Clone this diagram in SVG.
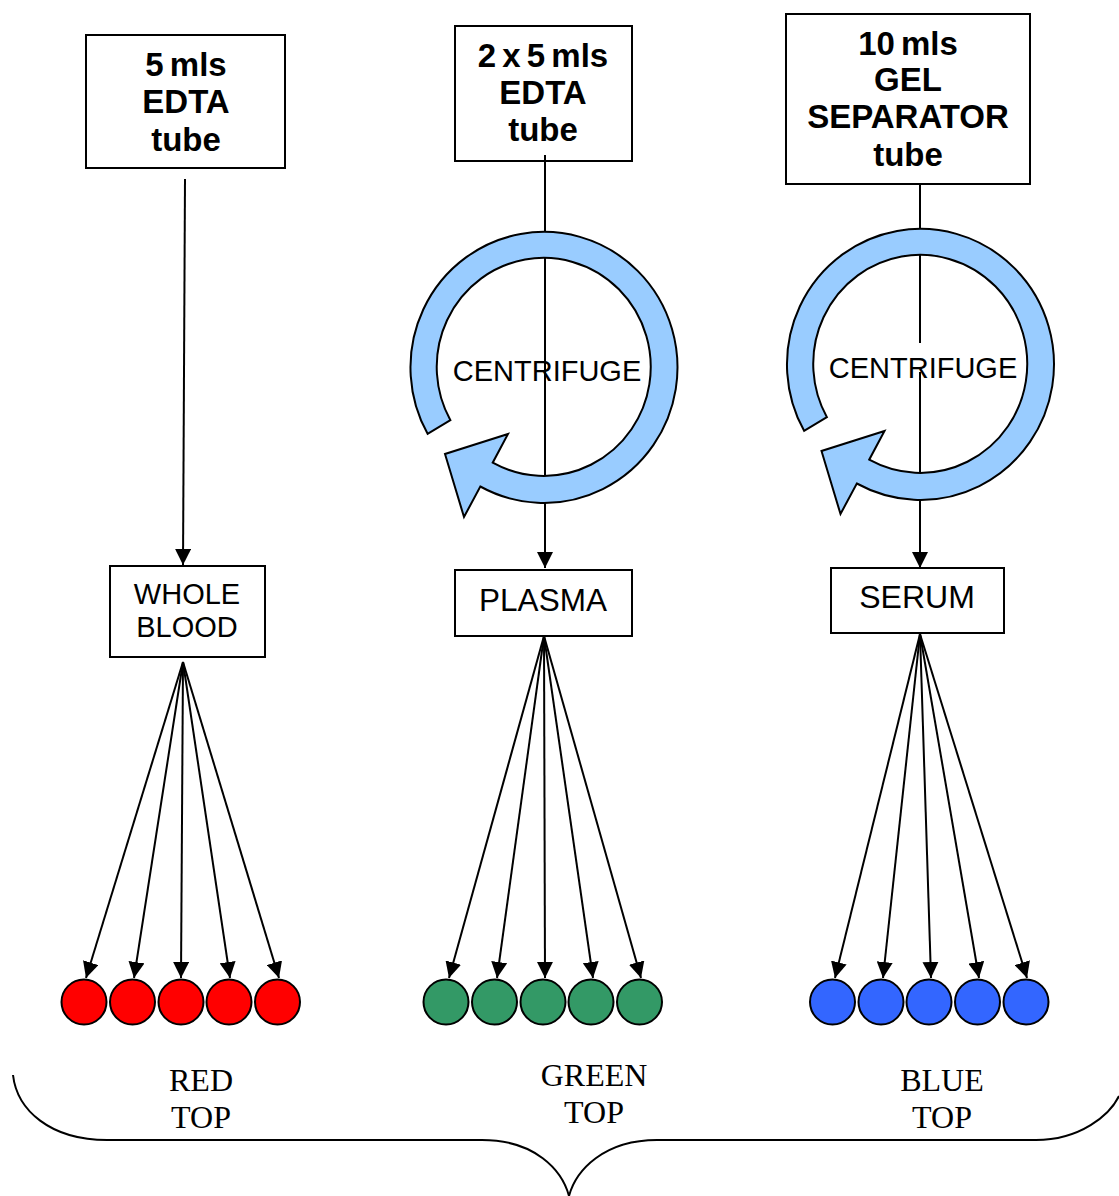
<svg xmlns="http://www.w3.org/2000/svg" width="1119" height="1196" viewBox="0 0 1119 1196">
<defs>
<marker id="ah" markerUnits="userSpaceOnUse" markerWidth="16" markerHeight="16" refX="16" refY="8" orient="auto"><path d="M0,0 L16,8 L0,16 Z" fill="#000"/></marker>
<path id="ring" d="M427.6,433.8 A133.5,135.5 0 1 1 480.3,486.5 L464,517 L445,454 L508,434 L492.7,462.7 A107,109 0 1 0 450.4,420.2 Z"/>
</defs>
<style>
.box{fill:#fff;stroke:#000;stroke-width:2}
.b{font:bold 33px "Liberation Sans",Arial,sans-serif;text-anchor:middle;word-spacing:-3px}
.l{font:29px "Liberation Sans",Arial,sans-serif;text-anchor:middle}
.s{font:32px "Liberation Serif","Times New Roman",serif;text-anchor:middle}
.c{stroke:#000;stroke-width:2;fill:none;marker-end:url(#ah)}
.n{stroke:#000;stroke-width:2;fill:none}
.d{stroke:#000;stroke-width:2}
.r{fill:#99ccff;stroke:#000;stroke-width:2}
</style>
<g id="box-edta5"><rect class="box" x="86" y="35" width="199" height="133"/><text class="b" x="186" y="76">5 mls</text><text class="b" x="186" y="113">EDTA</text><text class="b" x="186" y="151">tube</text></g>
<g id="box-edta2x5"><rect class="box" x="455" y="26" width="177" height="135"/><text class="b" x="543" y="67">2 x 5 mls</text><text class="b" x="543" y="104">EDTA</text><text class="b" x="543" y="141">tube</text></g>
<g id="box-gel"><rect class="box" x="786" y="14" width="244" height="170"/><text class="b" x="908" y="55">10 mls</text><text class="b" x="908" y="91">GEL</text><text class="b" x="908" y="128">SEPARATOR</text><text class="b" x="908" y="166">tube</text></g>
<g id="box-whole"><rect class="box" x="110" y="566" width="155" height="91"/><text class="l" x="187" y="604">WHOLE</text><text class="l" x="187" y="637">BLOOD</text></g>
<g id="box-plasma"><rect class="box" x="455" y="570" width="177" height="66"/><text class="l" x="543" y="611" style="font-size:31.5px">PLASMA</text></g>
<g id="box-serum"><rect class="box" x="831" y="568" width="173" height="65"/><text class="l" x="917" y="608" style="font-size:32px">SERUM</text></g>
<g id="connectors">
<line class="c" x1="185" y1="179" x2="183" y2="565"/>
<line class="c" x1="545" y1="155" x2="545" y2="568"/>
<line class="n" x1="920" y1="184" x2="920" y2="343"/>
<line class="c" x1="920" y1="372" x2="920" y2="568"/>
<line class="c" x1="183" y1="662" x2="86" y2="978"/>
<line class="c" x1="183" y1="662" x2="134" y2="978"/>
<line class="c" x1="183" y1="662" x2="181" y2="978"/>
<line class="c" x1="183" y1="662" x2="230" y2="978"/>
<line class="c" x1="183" y1="662" x2="279" y2="978"/>
<line class="c" x1="544" y1="636" x2="449" y2="978"/>
<line class="c" x1="544" y1="636" x2="497" y2="978"/>
<line class="c" x1="544" y1="636" x2="545" y2="978"/>
<line class="c" x1="544" y1="636" x2="593" y2="978"/>
<line class="c" x1="544" y1="636" x2="641" y2="978"/>
<line class="c" x1="920" y1="634" x2="835" y2="978"/>
<line class="c" x1="920" y1="634" x2="883" y2="978"/>
<line class="c" x1="920" y1="634" x2="931" y2="978"/>
<line class="c" x1="920" y1="634" x2="979" y2="978"/>
<line class="c" x1="920" y1="634" x2="1027" y2="978"/>
<path id="brace" class="n" d="M13,1075 C17,1110 50,1140 107,1140 L482,1140 C535,1140 562,1170 569,1196 C576,1170 604,1140 657,1140 L1036,1140 C1080,1140 1110,1115 1119,1096"/>
</g>
<g id="centrifuge-1"><use href="#ring" class="r"/><text class="l" x="547" y="381">CENTRIFUGE</text></g>
<g id="centrifuge-2"><use href="#ring" class="r" x="376.5" y="-3"/><text class="l" x="923" y="378">CENTRIFUGE</text></g>
<g id="tubes-red" fill="#ff0000"><circle class="d" cx="84" cy="1002" r="22.5"/><circle class="d" cx="132.5" cy="1002" r="22.5"/><circle class="d" cx="181" cy="1002" r="22.5"/><circle class="d" cx="229" cy="1002" r="22.5"/><circle class="d" cx="277.5" cy="1002" r="22.5"/></g>
<g id="tubes-green" fill="#339966"><circle class="d" cx="446" cy="1002" r="22.5"/><circle class="d" cx="494.5" cy="1002" r="22.5"/><circle class="d" cx="543" cy="1002" r="22.5"/><circle class="d" cx="591" cy="1002" r="22.5"/><circle class="d" cx="639.5" cy="1002" r="22.5"/></g>
<g id="tubes-blue" fill="#3366ff"><circle class="d" cx="832.5" cy="1002" r="22.5"/><circle class="d" cx="881" cy="1002" r="22.5"/><circle class="d" cx="929" cy="1002" r="22.5"/><circle class="d" cx="977.5" cy="1002" r="22.5"/><circle class="d" cx="1026" cy="1002" r="22.5"/></g>
<g id="label-red"><text class="s" x="201" y="1091">RED</text><text class="s" x="201" y="1128">TOP</text></g>
<g id="label-green"><text class="s" x="594" y="1086">GREEN</text><text class="s" x="594" y="1123">TOP</text></g>
<g id="label-blue"><text class="s" x="942" y="1091">BLUE</text><text class="s" x="942" y="1128">TOP</text></g>
</svg>
